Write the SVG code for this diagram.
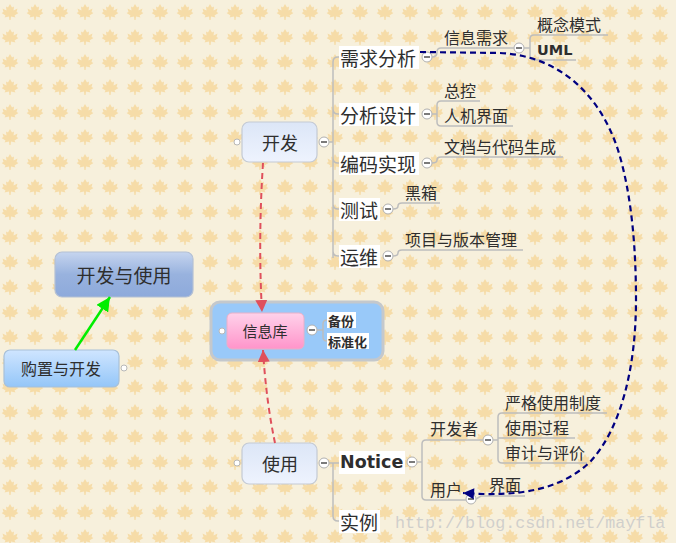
<svg xmlns="http://www.w3.org/2000/svg" width="676" height="543" viewBox="0 0 676 543">
<defs>
<pattern id="leaf" x="0" y="0" width="25" height="25" patternUnits="userSpaceOnUse">
<path transform="translate(10,12)" fill="#f6dca8" d="M0,-8 L2,-4.5 L4,-5.5 L3.5,-1.5 L7.5,-3.5 L6.5,0 L8.5,1 L4.5,3.5 L5.5,5.5 L1,4.5 L0.6,8 L-0.6,8 L-1,4.5 L-5.5,5.5 L-4.5,3.5 L-8.5,1 L-6.5,0 L-7.5,-3.5 L-3.5,-1.5 L-4,-5.5 L-2,-4.5 Z"/>
</pattern>
<linearGradient id="gTopic" x1="0" y1="0" x2="0" y2="1"><stop offset="0" stop-color="#dce6f7"/><stop offset="1" stop-color="#eef3fe"/></linearGradient>
<linearGradient id="gMain" x1="0" y1="0" x2="0" y2="1"><stop offset="0" stop-color="#c6d5ef"/><stop offset="0.5" stop-color="#98b2de"/><stop offset="1" stop-color="#8eaadb"/></linearGradient>
<linearGradient id="gBuy" x1="0" y1="0" x2="0" y2="1"><stop offset="0" stop-color="#cfe5ff"/><stop offset="1" stop-color="#94c6f8"/></linearGradient>
<linearGradient id="gPink" x1="0" y1="0" x2="0" y2="1"><stop offset="0" stop-color="#ffd2ea"/><stop offset="1" stop-color="#ff94ca"/></linearGradient>
<marker id="aRed" viewBox="0 0 10 10" refX="10" refY="5" markerWidth="12" markerHeight="12" markerUnits="userSpaceOnUse" orient="auto"><path d="M0,0 L10,5 L0,10 Z" fill="#e0505c"/></marker>
<marker id="aNavy" viewBox="0 0 10 10" refX="10" refY="5" markerWidth="12" markerHeight="11" markerUnits="userSpaceOnUse" orient="auto"><path d="M0,0 L10,5 L0,10 Z" fill="#000080"/></marker>
<marker id="aGreen" viewBox="0 0 10 10" refX="10" refY="5" markerWidth="14" markerHeight="14" markerUnits="userSpaceOnUse" orient="auto"><path d="M0,0 L10,5 L0,10 Z" fill="#00ee00"/></marker>
</defs>
<style>
text{font-family:"Noto Sans CJK SC","Noto Sans",sans-serif;fill:#2e2e2e;dominant-baseline:central}
.t18{font-size:18px}
.t19{font-size:19px}
.t16{font-size:16px}
.t13{font-size:13px;font-weight:bold}
.lat{font-family:"DejaVu Sans",sans-serif;font-weight:bold}
.br{fill:none;stroke:#bdbdbd;stroke-width:1.5}
.col{fill:#fff;stroke:#b0b0b0;stroke-width:1}
.dot{fill:#fff;stroke:#b8b8b8;stroke-width:1}
.mi{stroke:#333;stroke-width:1.3}
.wb{fill:#fff}
</style>
<rect width="676" height="543" fill="#f7f0dc"/>
<rect width="676" height="543" fill="url(#leaf)"/>

<g id="node-kaifa">
<rect x="242" y="122" width="75" height="40" rx="7" fill="url(#gTopic)" stroke="#c4cad4" stroke-width="1.2"/>
<text class="t18" x="280" y="142" text-anchor="middle">开发</text>
<circle class="dot" cx="237" cy="142" r="3"/>
<circle class="col" cx="324" cy="142" r="5"/><line class="mi" x1="321" y1="142" x2="327" y2="142"/>
</g>

<g id="node-xuqiu">
<rect class="wb" x="339" y="46" width="80" height="23"/>
<text class="t19" x="340" y="57">需求分析</text>
<circle class="col" cx="427" cy="57" r="5"/><line class="mi" x1="424" y1="57" x2="430" y2="57"/>
</g>
<g id="node-xinxixuqiu">
<text class="t16" x="444" y="37">信息需求</text>
<circle class="col" cx="519" cy="48" r="5"/><line class="mi" x1="516" y1="48" x2="522" y2="48"/>
</g>
<g id="node-gainian"><text class="t16" x="537" y="24">概念模式</text></g>
<g id="node-uml"><text class="lat" style="font-size:14.5px" x="537" y="50">UML</text></g>

<g id="node-sheji">
<rect class="wb" x="339" y="103" width="80" height="23"/>
<text class="t19" x="340" y="114">分析设计</text>
<circle class="col" cx="427" cy="114" r="5"/><line class="mi" x1="424" y1="114" x2="430" y2="114"/>
</g>
<g id="node-zongkong"><text class="t16" x="444" y="90">总控</text></g>
<g id="node-renji"><text class="t16" x="444" y="115">人机界面</text></g>

<g id="node-bianma">
<rect class="wb" x="339" y="152" width="80" height="23"/>
<text class="t19" x="340" y="163">编码实现</text>
<circle class="col" cx="427" cy="163" r="5"/><line class="mi" x1="424" y1="163" x2="430" y2="163"/>
</g>
<g id="node-wendang"><text class="t16" x="444" y="146">文档与代码生成</text></g>

<g id="node-ceshi">
<rect class="wb" x="339" y="198" width="41" height="23"/>
<text class="t19" x="340" y="209">测试</text>
<circle class="col" cx="388" cy="209" r="5"/><line class="mi" x1="385" y1="209" x2="391" y2="209"/>
</g>
<g id="node-heixiang"><text class="t16" x="405" y="192">黑箱</text></g>

<g id="node-yunwei">
<rect class="wb" x="339" y="245" width="41" height="23"/>
<text class="t19" x="340" y="256">运维</text>
<circle class="col" cx="388" cy="256" r="5"/><line class="mi" x1="385" y1="256" x2="391" y2="256"/>
</g>
<g id="node-xiangmu"><text class="t16" x="405" y="239">项目与版本管理</text></g>

<g id="node-kaifayushiyong">
<rect x="55" y="252" width="138" height="45" rx="7" fill="url(#gMain)" stroke="#b4c0d4" stroke-width="1.2"/>
<text class="t19" x="124" y="274" text-anchor="middle">开发与使用</text>
</g>

<g id="node-gouzhi">
<rect x="4" y="350" width="115" height="37" rx="6" fill="url(#gBuy)" stroke="#a8c0d8" stroke-width="1.2"/>
<text class="t16" x="61" y="368" text-anchor="middle">购置与开发</text>
<circle class="dot" cx="124" cy="368" r="3"/>
</g>

<g id="node-xinxiku">
<rect x="211" y="302" width="172" height="58" rx="9" fill="#99c9f9" stroke="#c4c8cc" stroke-width="3"/>
<rect x="227" y="313" width="77" height="36" rx="5" fill="url(#gPink)" stroke="#e8b0c8" stroke-width="1"/>
<text x="265" y="330" text-anchor="middle" style="font-size:15px">信息库</text>
<circle class="dot" cx="222" cy="331" r="3"/>
<circle class="col" cx="312" cy="330" r="5"/><line class="mi" x1="309" y1="330" x2="315" y2="330"/>
</g>
<g id="node-beifen">
<rect class="wb" x="327" y="312" width="29" height="16"/>
<text class="t13" x="328" y="320">备份</text>
</g>
<g id="node-biaozhun">
<rect class="wb" x="327" y="333" width="42" height="16"/>
<text class="t13" x="328" y="341">标准化</text>
</g>

<g id="node-shiyong">
<rect x="242" y="443" width="75" height="41" rx="7" fill="url(#gTopic)" stroke="#c4cad4" stroke-width="1.2"/>
<text class="t18" x="280" y="463" text-anchor="middle">使用</text>
<circle class="dot" cx="237" cy="463" r="3"/>
<circle class="col" cx="324" cy="463" r="5"/><line class="mi" x1="321" y1="463" x2="327" y2="463"/>
</g>

<g id="node-notice">
<rect class="wb" x="339" y="451" width="66" height="23"/>
<text class="lat" style="font-size:17.5px" x="340" y="462">Notice</text>
<circle class="col" cx="412" cy="462" r="5"/><line class="mi" x1="409" y1="462" x2="415" y2="462"/>
</g>
<g id="node-shili">
<rect class="wb" x="339" y="510" width="41" height="23"/>
<text class="t19" x="340" y="521">实例</text>
</g>

<g id="node-kaifazhe">
<text class="t16" x="430" y="428">开发者</text>
<circle class="col" cx="488" cy="440" r="5"/><line class="mi" x1="485" y1="440" x2="491" y2="440"/>
</g>
<g id="node-yange"><text class="t16" x="505" y="402">严格使用制度</text></g>
<g id="node-guocheng"><text class="t16" x="505" y="427">使用过程</text></g>
<g id="node-shenji"><text class="t16" x="505" y="452">审计与评价</text></g>

<g id="node-yonghu">
<text class="t16" x="430" y="489">用户</text>
<circle class="col" cx="471" cy="499" r="5"/><line class="mi" x1="468" y1="499" x2="474" y2="499"/>
</g>
<g id="node-jiemian"><text class="t16" x="489" y="484">界面</text></g>

<g id="connectors">
<path class="br" d="M329,142 L333,142 M333,258 L333,62 Q333,57 338,57 L339,57 M333,109 Q333,114 338,114 L339,114 M333,158 Q333,163 338,163 L339,163 M333,204 Q333,209 338,209 L339,209 M333,251 Q333,256 338,256 L339,256"/>
<path class="br" d="M432,57 Q437,57 437,52 Q437,48 441,48 L514,48"/>
<path class="br" d="M524,48 L530,48 M530,56 L530,39 Q530,35 534,35 L608,35 M530,44 L530,56 Q530,60 534,60 L576,60"/>
<path class="br" d="M432,114 L437,114 M437,122 L437,105 Q437,101 441,101 L480,101 M437,114 L437,122 Q437,126 441,126 L513,126"/>
<path class="br" d="M432,163 Q437,163 437,160 Q437,157 441,157 L563,157"/>
<path class="br" d="M393,209 Q398,209 398,206 Q398,203 402,203 L440,203"/>
<path class="br" d="M393,256 Q398,256 398,253 Q398,250 402,250 L523,250"/>
<path class="br" d="M317,330 L323,330 M323,330 L323,324 Q323,320 327,320 M323,330 L323,337 Q323,341 327,341"/>
<path class="br" d="M329,463 L339,463 M333,463 L333,516 Q333,521 338,521 L339,521"/>
<path class="br" d="M417,462 L422,462 M422,462 L422,444 Q422,440 426,440 L483,440 M422,462 L422,496 Q422,500 426,500 L466,500"/>
<path class="br" d="M493,440 L498,440 M498,440 L498,417 Q498,413 502,413 L607,413 M498,438 L575,438 M498,440 L498,459 Q498,463 502,463 L587,463"/>
<path class="br" d="M476,499 L481,496 L525,496"/>
<path d="M263,163 Q258,240 262,312" fill="none" stroke="#e0505c" stroke-width="2" stroke-dasharray="6,4" marker-end="url(#aRed)"/>
<path d="M275,443 Q266,400 263,350" fill="none" stroke="#e0505c" stroke-width="2" stroke-dasharray="6,4" marker-end="url(#aRed)"/>
<path d="M420,52 L500,53 C560,56 600,95 618,150 C632,195 636,250 636,300 C636,370 620,430 590,462 C560,490 520,497 463,493" fill="none" stroke="#000080" stroke-width="2.2" stroke-dasharray="6,4" marker-end="url(#aNavy)"/>
<path d="M75,350 L110,297" fill="none" stroke="#00ee00" stroke-width="2.5" marker-end="url(#aGreen)"/>
</g>

<text x="395" y="523" style="font-family:'Liberation Mono',monospace;font-size:16.7px;fill:#c9c9c9;fill-opacity:0.85">http://blog.csdn.net/mayfla</text>
</svg>
